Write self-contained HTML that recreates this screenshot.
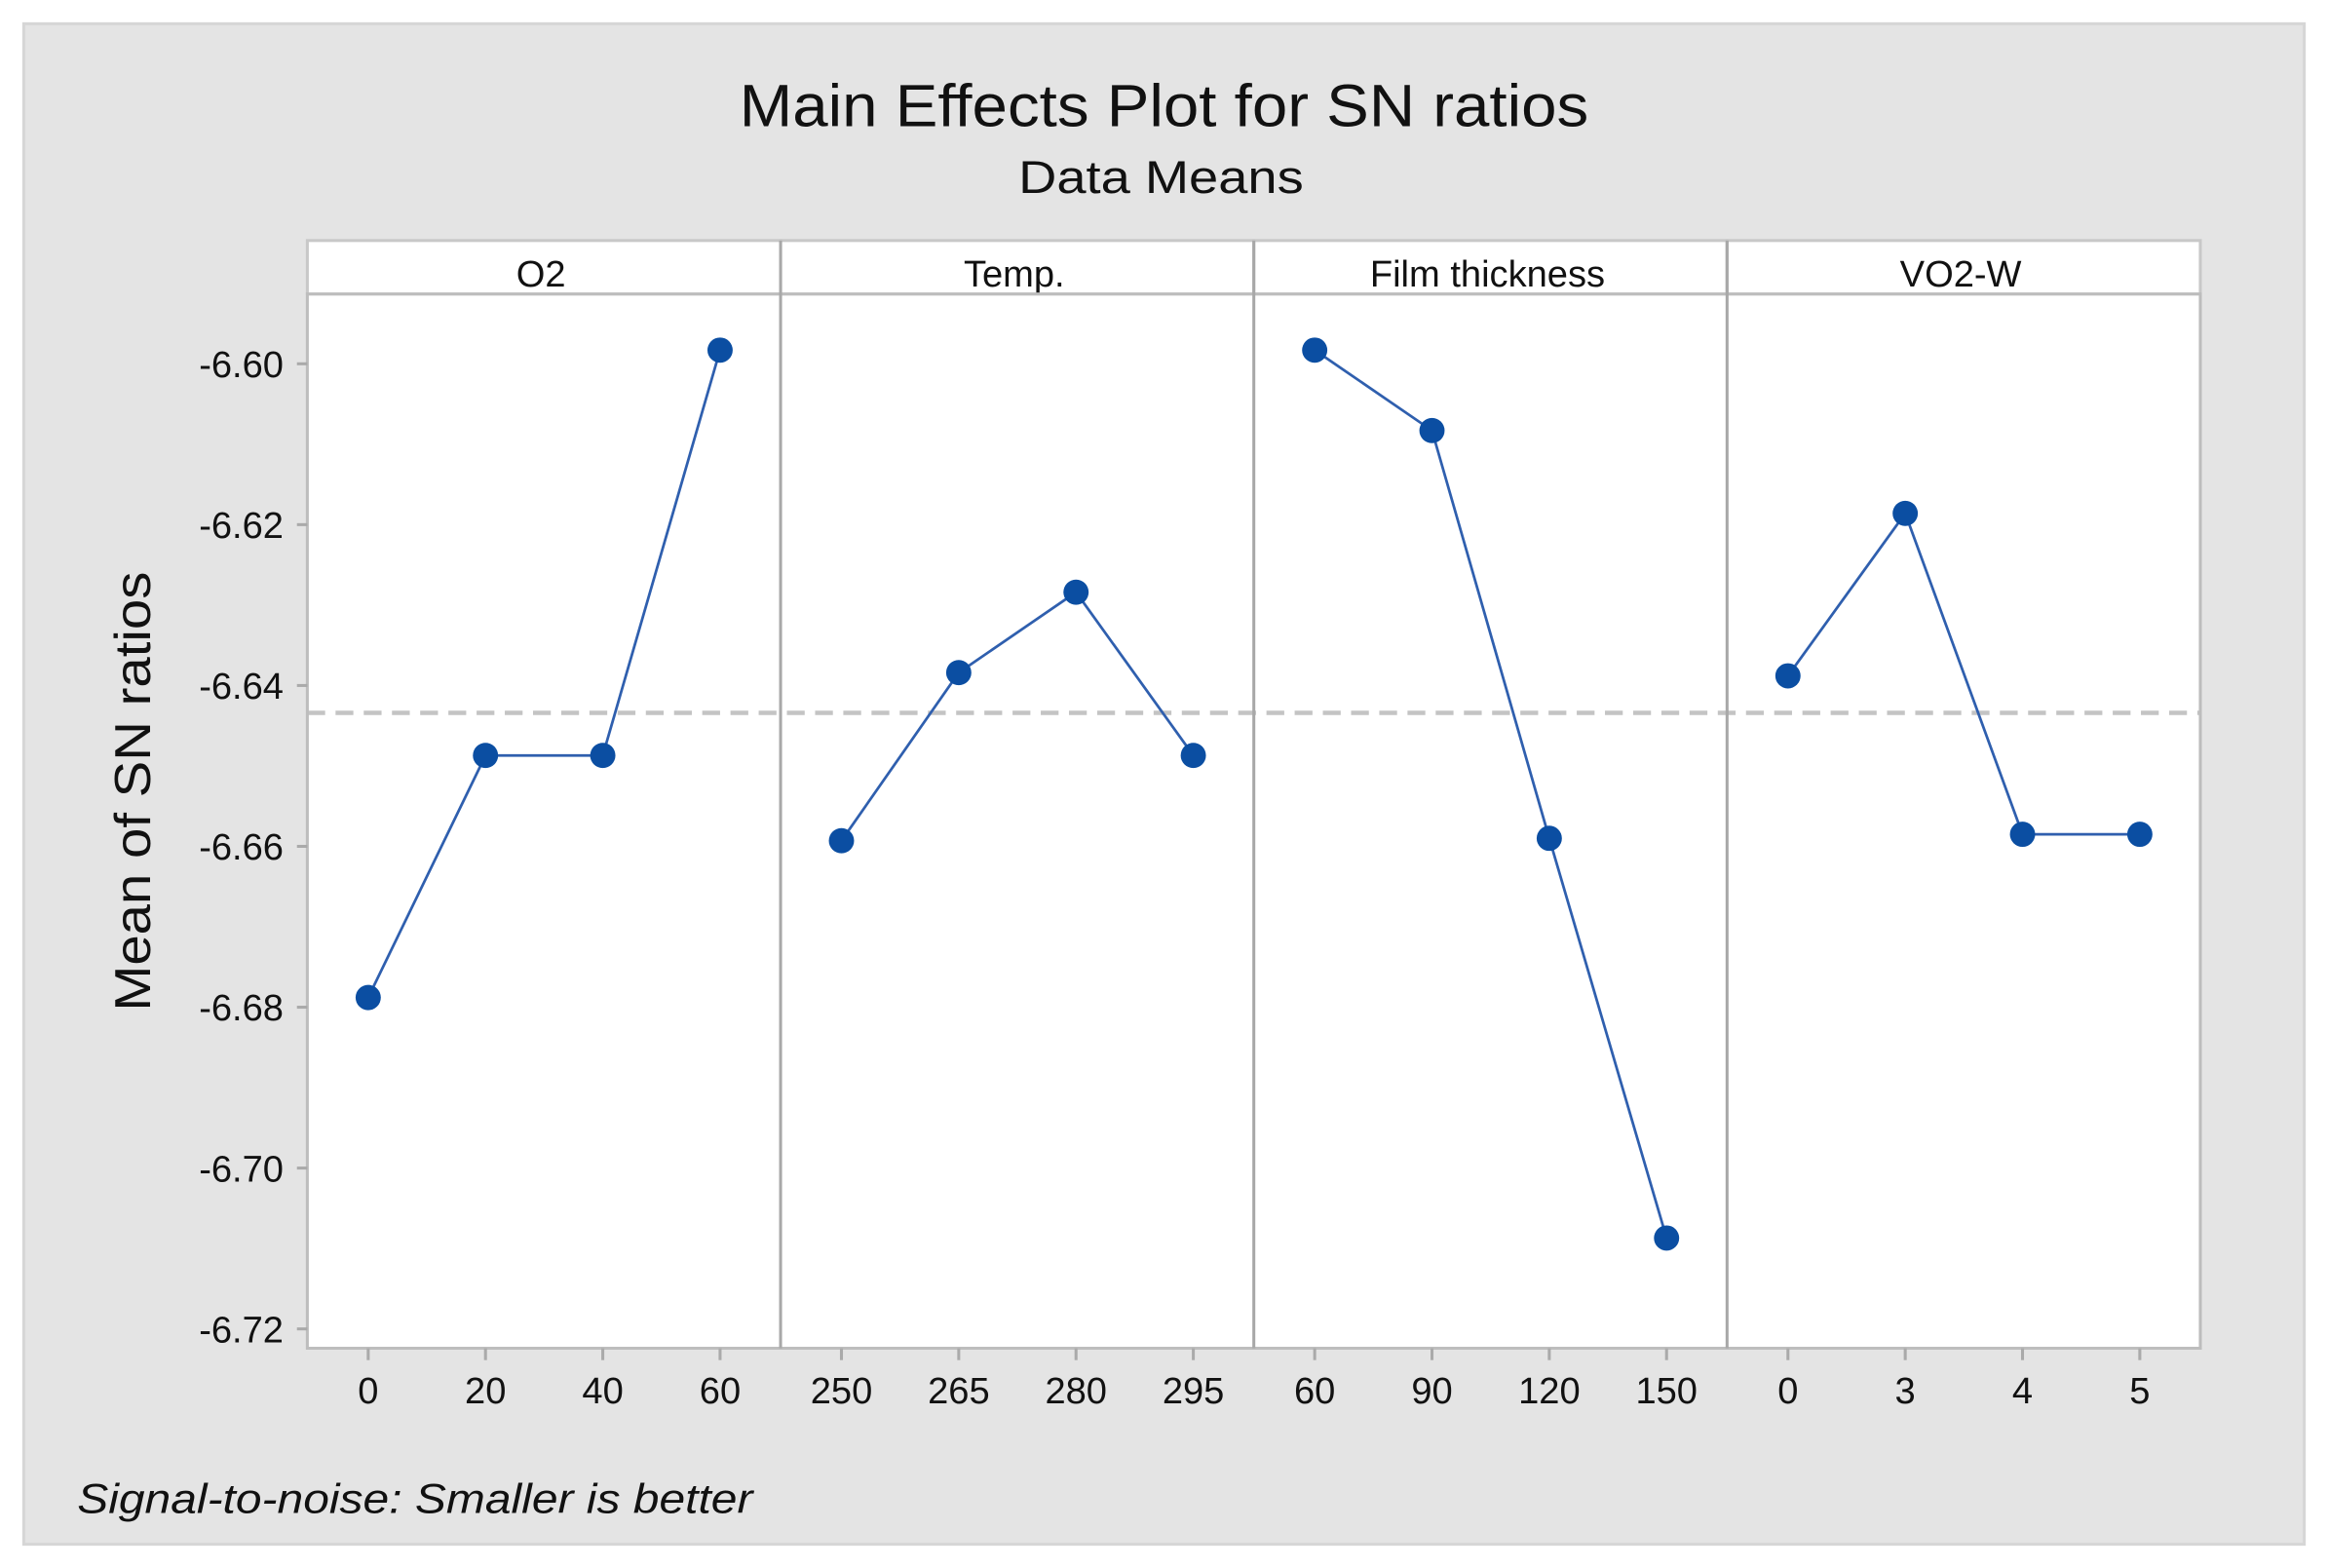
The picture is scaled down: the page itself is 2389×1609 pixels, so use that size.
<!DOCTYPE html>
<html><head><meta charset="utf-8"><style>
html,body{margin:0;padding:0;background:#fff;}
svg{display:block;font-family:"Liberation Sans",sans-serif;}
</style></head><body>
<svg id="chart" width="2389" height="1609" viewBox="0 0 1568 1056" preserveAspectRatio="none">
<rect x="16" y="16" width="1536" height="1024" fill="#e4e4e4" stroke="#d6d6d6" stroke-width="2"/>
<text x="784" y="85" text-anchor="middle" font-size="40" fill="#111" textLength="572" lengthAdjust="spacingAndGlyphs">Main Effects Plot for SN ratios</text>
<text x="782" y="130" text-anchor="middle" font-size="31" fill="#111" textLength="192" lengthAdjust="spacingAndGlyphs">Data Means</text>
<text transform="translate(101,533) rotate(-90)" text-anchor="middle" font-size="34" fill="#111" textLength="296" lengthAdjust="spacingAndGlyphs">Mean of SN ratios</text>
<text x="52" y="1019" font-size="28" font-style="italic" fill="#111" textLength="455" lengthAdjust="spacingAndGlyphs">Signal-to-noise: Smaller is better</text>
<g id="plot"></g>
</svg>
<script>
const factors = ["O2","Temp.","Film thickness","VO2-W"];
const levelLabels = [["0","20","40","60"],["250","265","280","295"],["60","90","120","150"],["0","3","4","5"]];
const o2Values = [-6.6788,-6.6487,-6.6487,-6.5983];
const tempValues = [-6.6593,-6.6384,-6.6284,-6.6487];
const filmValues = [-6.5983,-6.6083,-6.6590,-6.7087];
const vo2Values = [-6.6388,-6.6186,-6.6585,-6.6585];
const overallMean = -6.6434;
const yTicks = [-6.60,-6.62,-6.64,-6.66,-6.68,-6.70,-6.72];

const NS="http://www.w3.org/2000/svg";
const g=document.getElementById('plot');
const L=207,R=1482,T=162,SB=198,B=908,PW=(R-L)/4;
function y(v){return 245+(v-(-6.60))/(-0.02)*108.33;}
function x(p,i){return L+p*PW+41+i*79;}
function mk(tag,attrs){const e=document.createElementNS(NS,tag);for(const k in attrs)e.setAttribute(k,attrs[k]);g.appendChild(e);return e;}
const series=[o2Values,tempValues,filmValues,vo2Values];

let e=mk('rect',{x:L,y:SB,width:R-L,height:B-SB,fill:'#fff'});


for(let p=0;p<4;p++){
  e=mk('rect',{x:L+p*PW,y:T,width:PW,height:SB-T,fill:'#fff',stroke:'#c8c8c8','stroke-width':2});
  
  
  e=mk('text',{x:L+p*PW+PW/2-2,y:T+31,'text-anchor':'middle','font-size':25,fill:'#111'});
  e.textContent=factors[p];
  
  
}
e=mk('line',{x1:L,x2:R,y1:y(overallMean),y2:y(overallMean),stroke:'#c4c4c4','stroke-width':3,'stroke-dasharray':'12,7'});


e=mk('rect',{x:L,y:SB,width:R-L,height:B-SB,fill:'none',stroke:'#bdbdbd','stroke-width':2});


for(let p=1;p<4;p++){
  e=mk('line',{x1:L+p*PW,x2:L+p*PW,y1:T,y2:B,stroke:'#a8a8a8','stroke-width':2});
  
  
}
yTicks.forEach(t=>{
  e=mk('line',{x1:L-7,x2:L,y1:y(t),y2:y(t),stroke:'#aaa','stroke-width':2});
  
  
  e=mk('text',{x:L-16,y:y(t)+9,'text-anchor':'end','font-size':25,fill:'#111'});
  e.textContent=t.toFixed(2);
  
  
});
for(let p=0;p<4;p++){
  const vals=series[p];
  for(let i=0;i<4;i++){
    e=mk('line',{x1:x(p,i),x2:x(p,i),y1:B,y2:B+8,stroke:'#aaa','stroke-width':2});
    
    
    e=mk('text',{x:x(p,i),y:B+37,'text-anchor':'middle','font-size':25,fill:'#111'});
    e.textContent=levelLabels[p][i];
    
    
  }
  e=mk('polyline',{points:vals.map((v,i)=>x(p,i)+','+y(v)).join(' '),fill:'none',stroke:'#2f5fae','stroke-width':1.8});
  
  
  vals.forEach((v,i)=>{
    e=mk('circle',{cx:x(p,i),cy:y(v),r:8.5,fill:'#0b4ea2'});
    
    
  });
}
</script>
</body></html>
